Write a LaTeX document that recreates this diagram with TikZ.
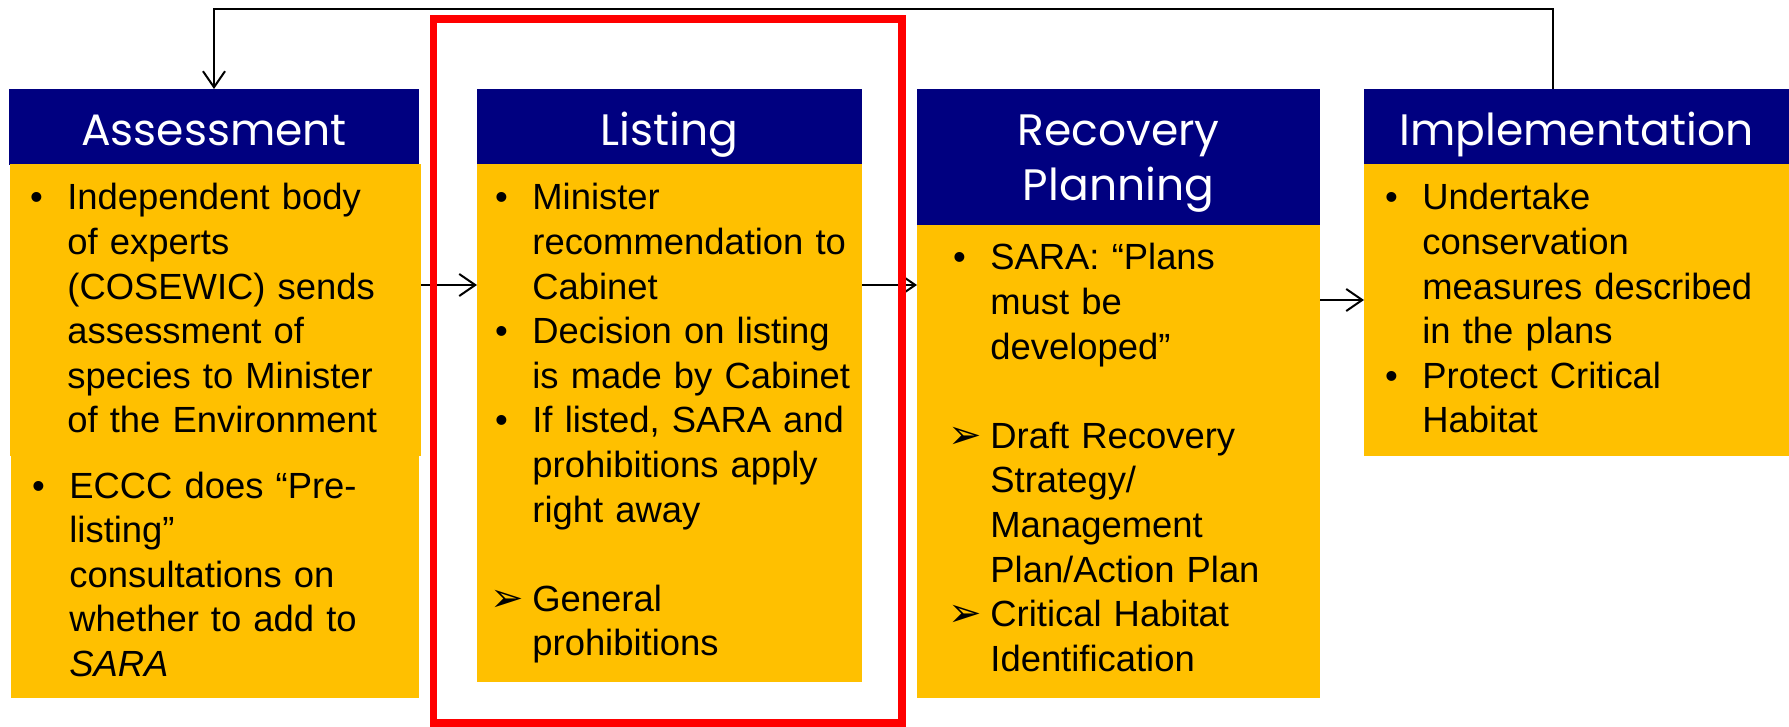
\documentclass[tikz,border=0pt]{standalone}
\usepackage{fontspec}
\setmainfont{Liberation Sans}
\newfontfamily\headfont{Poppins}
\newfontfamily\dingfont{DejaVu Sans}
\usetikzlibrary{arrows.meta}
\definecolor{navy}{HTML}{000080}
\definecolor{amber}{HTML}{FFC000}
\newcommand\bul{\leavevmode\llap{\textbullet\hspace{12.3pt}}}
\newcommand\arrowmark{\leavevmode\llap{\makebox[21pt][l]{\dingfont\fontsize{20}{20}\selectfont ➢}}}
\begin{document}
\begin{tikzpicture}[x=0.5pt,y=-0.5pt,
head/.style={fill=navy, text=white, font=\headfont\fontsize{22}{27.5}\selectfont, inner sep=0pt, outer sep=0pt, align=center, text height=21pt, text depth=2pt},
body/.style={fill=amber, inner sep=0pt, outer sep=0pt},
txt/.style={anchor=base west, inner sep=0pt, text width=200pt, align=left, font=\fontsize{18.2}{22.3}\selectfont},
arr/.style={-{Straight Barb[length=8pt,width=11pt]}, line width=1pt}]
\useasboundingbox (0,0) rectangle (1789,727);
\node[head, minimum width=205pt, minimum height=38pt] (assess head) at (214,127) {Assessment};
\node[body, minimum width=205.5pt, minimum height=146pt] (assess top) at (215.5,310) {};
\node[body, minimum width=204pt, minimum height=121pt] (assess low) at (215,577) {};
\node[head, minimum width=192.5pt, minimum height=37.5pt] (listing head) at (669.5,126.5) {Listing};
\node[body, minimum width=192.5pt, minimum height=259pt] (listing body) at (669.5,423) {};
\node[head, minimum width=201.5pt, minimum height=68pt, text height=47pt, text depth=3pt] (recovery head) at (1118.5,157) {Recovery\\Planning};
\node[body, minimum width=201.5pt, minimum height=236.5pt] (recovery body) at (1118.5,461.5) {};
\node[head, minimum width=212.5pt, minimum height=37.5pt] (impl head) at (1576.5,126.5) {Implementation};
\node[body, minimum width=212.5pt, minimum height=146pt] (impl body) at (1576.5,310) {};
\node[txt] (assess text) at (67,210) {\bul Independent body\\of experts\\(COSEWIC) sends\\assessment of\\species to Minister\\of the Environment};
\node[txt] (prelist text) at (69,498) {\bul ECCC does “Pre-\\listing”\\consultations on\\whether to add to\\\textit{SARA}};
\node[txt] (listing text) at (532,210) {\bul Minister\\recommendation to\\Cabinet\\\bul Decision on listing\\is made by Cabinet\\\bul If listed, SARA and\\prohibitions apply\\right away\\[22.3pt]\arrowmark General\\prohibitions};
\node[txt] (recovery text) at (990,270) {\bul SARA: “Plans\\must be\\developed”\\[22.3pt]\arrowmark Draft Recovery\\Strategy/\\Management\\Plan/Action Plan\\\arrowmark Critical Habitat\\Identification};
\node[txt] (impl text) at (1422,210) {\bul Undertake\\conservation\\measures described\\in the plans\\\bul Protect Critical\\Habitat};
\coordinate (row a) at (0,285);
\coordinate (row b) at (0,300);
\coordinate (back) at (1553,9);
\draw[arr] (assess top.east |- row a) -- (listing body.west |- row a);
\draw[arr] (listing body.east |- row a) -- (recovery body.west |- row a);
\draw[arr] (recovery body.east |- row b) -- (impl body.west |- row b);
\draw[arr] (impl head.north -| back) -- (back) -| (assess head.north);
\node[draw=red, line width=3.75pt, minimum width=234.25pt, minimum height=352pt, inner sep=0pt] (focus) at (667.75,371) {};
\end{tikzpicture}
\end{document}
